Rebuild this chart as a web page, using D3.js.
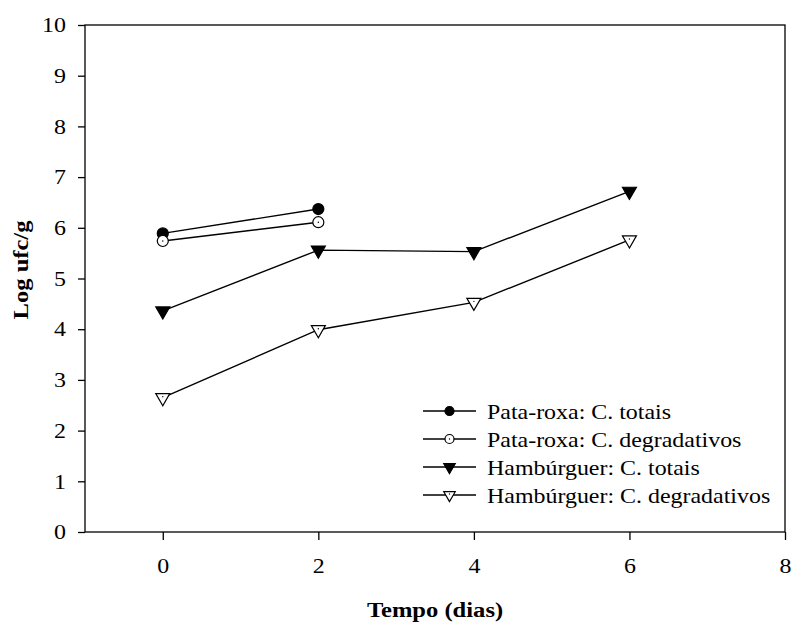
<!DOCTYPE html>
<html>
<head>
<meta charset="utf-8">
<script src="https://cdn.jsdelivr.net/npm/d3@7"></script>
<style>
  body { margin: 0; background: #fff; }
  svg { display: block; font-family: "Liberation Serif", "Times New Roman", serif; }
</style>
</head>
<body>
<svg id="chart" width="792" height="622"></svg>
<script>
// Microbial counts over storage time
const days = [0, 2, 4, 6];
const pataTotais = [5.89, 6.37];
const pataDegrad = [5.74, 6.11];
const hambTotais = [4.36, 5.56, 5.53, 6.72];
const hambDegrad = [2.65, 3.99, 4.53, 5.76];
const xTicks = [0, 2, 4, 6, 8];
const yTicks = [0, 1, 2, 3, 4, 5, 6, 7, 8, 9, 10];

const seriesList = [
  { name: "Pata-roxa: C. totais", values: pataTotais, shape: "circle", filled: true },
  { name: "Pata-roxa: C. degradativos", values: pataDegrad, shape: "circle", filled: false },
  { name: "Hambúrguer: C. totais", values: hambTotais, shape: "triangle", filled: true },
  { name: "Hambúrguer: C. degradativos", values: hambDegrad, shape: "triangle", filled: false }
];

const svg = d3.select("#chart");
const plotL = 85, plotR = 785, plotT = 25, plotB = 532;
const FS = 21;        // font size for all labels
const SX = 1.14;      // horizontal widening of the serif glyphs

const x = d3.scaleLinear().domain([-1, 8]).range([plotL, plotR]);
const y = d3.scaleLinear().domain([0, 10]).range([plotB, plotT]);

// frame
svg.append("rect")
  .attr("x", plotL).attr("y", plotT)
  .attr("width", plotR - plotL).attr("height", plotB - plotT)
  .attr("fill", "none").attr("stroke", "#000").attr("stroke-width", 1.3);

// axes
const xAxis = svg.append("g").attr("transform", `translate(0,${plotB})`)
  .call(d3.axisBottom(x).tickValues(xTicks).tickSize(8).tickPadding(18).tickFormat(d3.format("d")));
const yAxis = svg.append("g").attr("transform", `translate(${plotL},0)`)
  .call(d3.axisLeft(y).tickValues(yTicks).tickSize(7).tickPadding(12).tickFormat(d3.format("d")));
[xAxis, yAxis].forEach(g => {
  g.select(".domain").remove();
  g.selectAll("line").attr("stroke", "#000").attr("stroke-width", 1.3);
  g.attr("font-family", null).attr("font-size", null);
  g.selectAll("text").attr("fill", "#000").style("font-size", FS + "px");
});
xAxis.selectAll("text").each(function () {
  const t = d3.select(this);
  const ty = +t.attr("y");
  t.attr("y", 0).attr("transform", `translate(0,${ty}) scale(${SX},1)`);
});
yAxis.selectAll("text").each(function () {
  const t = d3.select(this);
  const tx = +t.attr("x");
  t.attr("x", 0).attr("transform", `translate(${tx},0) scale(${SX},1)`);
});

// axis titles
svg.append("text")
  .attr("transform", `translate(${(x(-1) + x(8)) / 2},617) scale(${SX + 0.03},1)`)
  .attr("text-anchor", "middle")
  .style("font-size", FS + "px").style("font-weight", "bold")
  .text("Tempo (dias)");
svg.append("text")
  .attr("transform", `translate(28,270) rotate(-90) scale(${SX + 0.03},1)`)
  .attr("text-anchor", "middle")
  .style("font-size", FS + "px").style("font-weight", "bold")
  .text("Log ufc/g");

function drawMarker(g, s, cx, cy, scale) {
  if (s.shape === "circle") {
    g.append("circle").attr("cx", cx).attr("cy", cy).attr("r", 5.5 * scale)
      .attr("fill", s.filled ? "#000" : "#fff").attr("stroke", "#000").attr("stroke-width", 1.2);
  } else {
    const tri = d3.symbol().type(d3.symbolTriangle).size(85 * scale * scale);
    g.append("path").attr("d", tri)
      .attr("transform", `translate(${cx},${cy}) rotate(180)`)
      .attr("fill", s.filled ? "#000" : "#fff").attr("stroke", "#000").attr("stroke-width", 1.2);
  }
  if (!s.filled) {
    g.append("circle").attr("cx", cx).attr("cy", s.shape === "circle" ? cy : cy - 1)
      .attr("r", 0.7).attr("fill", "#000");
  }
}

const line = d3.line().x(d => x(d[0])).y(d => y(d[1]));

seriesList.forEach(s => {
  const pts = s.values.map((v, i) => [days[i], v]);
  svg.append("path").datum(pts).attr("d", line)
    .attr("fill", "none").attr("stroke", "#000").attr("stroke-width", 1.4);
  const g = svg.append("g");
  pts.forEach(p => drawMarker(g, s, x(p[0]), y(p[1]), 1));
});

// legend
const legY0 = 411, legStep = 28, legX1 = 423, legX2 = 476;
seriesList.forEach((s, i) => {
  const ly = legY0 + i * legStep;
  svg.append("line").attr("x1", legX1).attr("x2", legX2).attr("y1", ly).attr("y2", ly)
    .attr("stroke", "#000").attr("stroke-width", 1.4);
  drawMarker(svg.append("g"), s, (legX1 + legX2) / 2, ly, 0.82);
  svg.append("text")
    .attr("transform", `translate(487,${ly + 8}) scale(${SX},1)`)
    .style("font-size", FS + "px").text(s.name);
});
</script>
</body>
</html>
